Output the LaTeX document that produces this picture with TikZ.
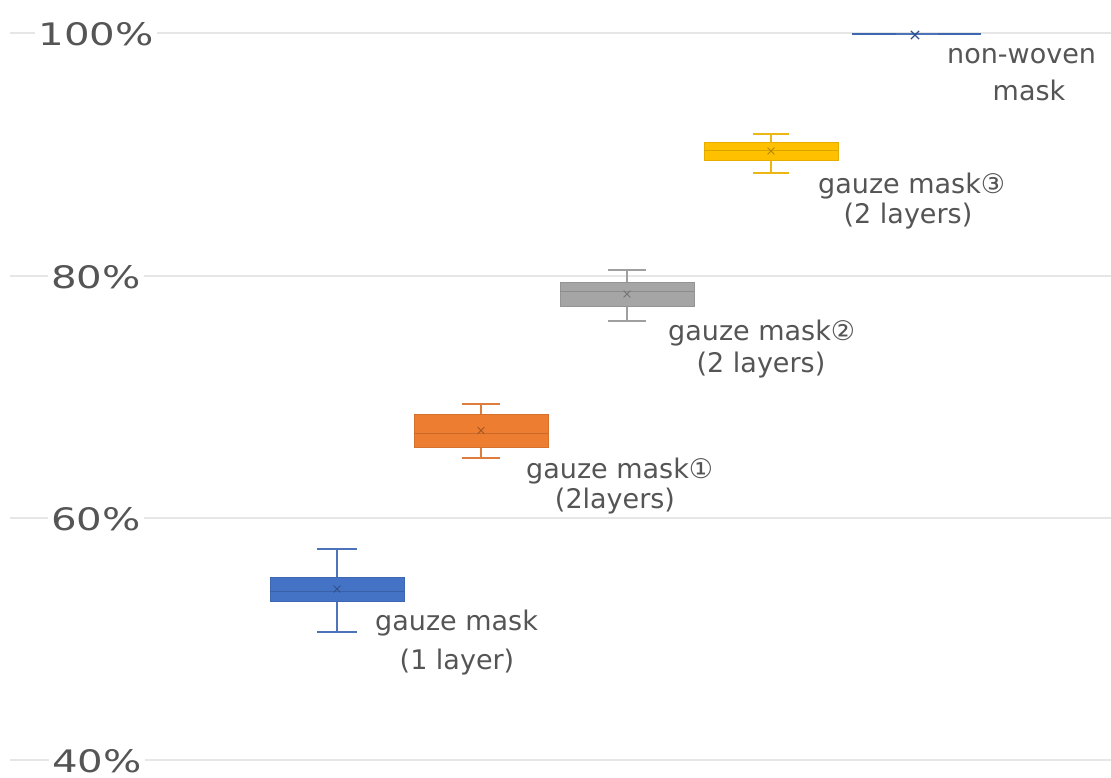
\documentclass[tikz,border=0pt]{standalone}
\usepackage{fontspec}
\setmainfont{DejaVu Sans}
\usetikzlibrary{shapes.misc}
\definecolor{gridc}{HTML}{E6E6E6}
\definecolor{txt}{HTML}{555555}
\definecolor{cblue}{HTML}{4472C4}
\definecolor{corange}{HTML}{ED7D31}
\definecolor{cgray}{HTML}{A5A5A5}
\definecolor{cyellow}{HTML}{FFC000}
\begin{document}
\begin{tikzpicture}[x=1pt,y=-1pt,
  gridline/.style={draw=gridc, line width=1.6pt},
  ticklab/.style={fill=white, text=txt, font=\fontsize{31}{31}\selectfont, inner sep=3pt},
  boxbar/.style={draw=#1!90!black, fill=#1, line width=0.6pt, inner sep=0pt, minimum width=134pt},
  whisk/.style={draw=#1!85!gray, line width=1.2pt},
  medline/.style={draw=#1!85!black, line width=0.8pt},
  meanmark/.style={cross out, draw=#1!70!black, line width=0.8pt, minimum size=6pt, inner sep=0pt},
  seriesname/.style={text=txt, font=\fontsize{27}{27}\selectfont, anchor=base, inner sep=0pt},
  firstline/.style={seriesname, anchor=base west},
]
\useasboundingbox[fill=white] (0,0) rectangle (1111,777);

% horizontal grid
\draw[gridline] (10,33) -- (1111,33);
\draw[gridline] (10,276) -- (1111,276);
\draw[gridline] (10,518) -- (1111,518);
\draw[gridline] (10,760) -- (1111,760);

% axis labels
\node[ticklab] (t100) at (96,34) {\scalebox{1.3}[1]{100\%}};
\node[ticklab] (t80)  at (96,277) {\scalebox{1.3}[1]{80\%}};
\node[ticklab] (t60)  at (96,519) {\scalebox{1.3}[1]{60\%}};
\node[ticklab] (t40)  at (97,761) {\scalebox{1.3}[1]{40\%}};

% gauze mask, 1 layer
\coordinate (w1t) at (337,549);
\coordinate (w1b) at (337,632);
\draw[whisk=cblue] (w1t) -- (w1b);
\draw[whisk=cblue] ([xshift=-20pt]w1t) -- ([xshift=20pt]w1t);
\draw[whisk=cblue] ([xshift=-20pt]w1b) -- ([xshift=20pt]w1b);
\node[boxbar=cblue, minimum height=24pt] (b1) at (337,589) {};
\draw[medline=cblue] ([yshift=-2pt]b1.west) -- ([yshift=-2pt]b1.east);
\node[meanmark=cblue] (m1) at (b1.center) {};

% gauze mask 1, 2 layers
\coordinate (w2t) at (481,404);
\coordinate (w2b) at (481,458);
\draw[whisk=corange] (w2t) -- (w2b);
\draw[whisk=corange] ([xshift=-19pt]w2t) -- ([xshift=19pt]w2t);
\draw[whisk=corange] ([xshift=-19pt]w2b) -- ([xshift=19pt]w2b);
\node[boxbar=corange, minimum height=33pt] (b2) at (481,430.5) {};
\draw[medline=corange] ([yshift=-3pt]b2.west) -- ([yshift=-3pt]b2.east);
\node[meanmark=corange] (m2) at (b2.center) {};

% gauze mask 2, 2 layers
\coordinate (w3t) at (627,270);
\coordinate (w3b) at (627,321);
\draw[whisk=cgray] (w3t) -- (w3b);
\draw[whisk=cgray] ([xshift=-19pt]w3t) -- ([xshift=19pt]w3t);
\draw[whisk=cgray] ([xshift=-19pt]w3b) -- ([xshift=19pt]w3b);
\node[boxbar=cgray, minimum height=24pt] (b3) at (627,294) {};
\draw[medline=cgray] ([yshift=3pt]b3.west) -- ([yshift=3pt]b3.east);
\node[meanmark=cgray] (m3) at (b3.center) {};

% gauze mask 3, 2 layers
\coordinate (w4t) at (771,134);
\coordinate (w4b) at (771,173);
\draw[whisk=cyellow] (w4t) -- (w4b);
\draw[whisk=cyellow] ([xshift=-18pt]w4t) -- ([xshift=18pt]w4t);
\draw[whisk=cyellow] ([xshift=-18pt]w4b) -- ([xshift=18pt]w4b);
\node[boxbar=cyellow, minimum height=18pt] (b4) at (771,151) {};
\draw[medline=cyellow] ([yshift=1pt]b4.west) -- ([yshift=1pt]b4.east);
\node[meanmark=cyellow] (m4) at (b4.center) {};

% non-woven mask
\node[boxbar=cblue, minimum width=128pt, minimum height=1.6pt, line width=0.3pt] (b5) at (916,33.5) {};
\coordinate (w5l) at (896,34);
\coordinate (w5r) at (938,34);
\draw[whisk=cblue] (w5l) -- (w5r);
\node[meanmark=cblue, minimum size=7pt, line width=1.2pt] (m5) at (915,35) {};

% series names
\node[firstline] (n1a) at (375,630) {gauze mask};
\node[seriesname] (n1b) at (457,669) {(1 layer)};
\node[firstline] (n2a) at (526,478) {gauze mask①};
\node[seriesname] (n2b) at (615,508) {(2layers)};
\node[firstline] (n3a) at (668,340) {gauze mask②};
\node[seriesname] (n3b) at (761,372) {(2 layers)};
\node[firstline] (n4a) at (818,193) {gauze mask③};
\node[seriesname] (n4b) at (908,223) {(2 layers)};
\node[firstline] (n5a) at (947,63) {non-woven};
\node[seriesname] (n5b) at (1029,100) {mask};
\end{tikzpicture}
\end{document}
